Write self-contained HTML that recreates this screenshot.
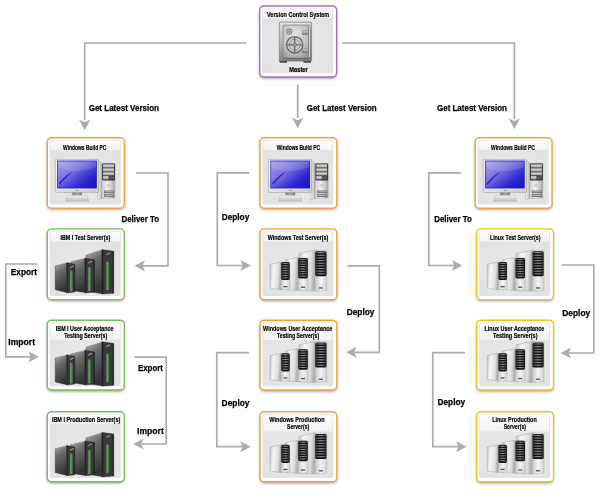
<!DOCTYPE html>
<html><head><meta charset="utf-8">
<style>
html,body{margin:0;padding:0;background:#fff;width:600px;height:495px;overflow:hidden}
svg{display:block;font-family:"Liberation Sans", sans-serif;will-change:transform}
</style></head><body>
<svg width="600" height="495" viewBox="0 0 600 495">
<rect width="600" height="495" fill="#fff"/>

<defs>
  <linearGradient id="band" x1="0" y1="0" x2="0" y2="1">
    <stop offset="0" stop-color="#fdfdfd"/>
    <stop offset="1" stop-color="#f2f2f2"/>
  </linearGradient>
  <radialGradient id="panel" cx="0.5" cy="0.6" r="0.7">
    <stop offset="0" stop-color="#ebebeb"/>
    <stop offset="1" stop-color="#e0e0e0"/>
  </radialGradient>
  <filter id="sh" x="-20%" y="-20%" width="140%" height="140%">
    <feGaussianBlur stdDeviation="1.4"/>
  </filter>
  <linearGradient id="scr" x1="0" y1="0" x2="1" y2="0.9">
    <stop offset="0" stop-color="#aaa2e6"/>
    <stop offset="0.4" stop-color="#7a72de"/>
    <stop offset="0.62" stop-color="#4a42d6"/>
    <stop offset="0.8" stop-color="#2a22d0"/>
    <stop offset="1" stop-color="#1c16cc"/>
  </linearGradient>
  <linearGradient id="silv" x1="0" y1="0" x2="1" y2="1">
    <stop offset="0" stop-color="#f4f4f4"/>
    <stop offset="1" stop-color="#bdbdbd"/>
  </linearGradient>
  <linearGradient id="silvH" x1="0" y1="0" x2="1" y2="0">
    <stop offset="0" stop-color="#f8f8f8"/>
    <stop offset="0.6" stop-color="#e0e0e0"/>
    <stop offset="1" stop-color="#b8b8b8"/>
  </linearGradient>
  <linearGradient id="wside" x1="0" y1="0" x2="1" y2="0.15">
    <stop offset="0" stop-color="#c4c4c4"/>
    <stop offset="0.35" stop-color="#f6f6f6"/>
    <stop offset="0.8" stop-color="#dedede"/>
    <stop offset="1" stop-color="#b4b4b4"/>
  </linearGradient>
  <linearGradient id="wfront" x1="0" y1="0" x2="1" y2="0">
    <stop offset="0" stop-color="#c4c4c4"/>
    <stop offset="0.5" stop-color="#f4f4f4"/>
    <stop offset="1" stop-color="#d0d0d0"/>
  </linearGradient>
  <linearGradient id="dside" x1="0.1" y1="0" x2="0.4" y2="1">
    <stop offset="0" stop-color="#a8a8a8"/>
    <stop offset="0.35" stop-color="#6a6a6a"/>
    <stop offset="1" stop-color="#333333"/>
  </linearGradient>
  <linearGradient id="safe" x1="0" y1="0" x2="0.3" y2="1">
    <stop offset="0" stop-color="#e2e2e2"/>
    <stop offset="0.5" stop-color="#b4b4b4"/>
    <stop offset="1" stop-color="#7e7e7e"/>
  </linearGradient>
  <radialGradient id="safeDoor" cx="0.45" cy="0.3" r="0.85">
    <stop offset="0" stop-color="#e4e4e4"/>
    <stop offset="0.6" stop-color="#c0c0c0"/>
    <stop offset="1" stop-color="#929292"/>
  </radialGradient>

  <linearGradient id="tside" x1="0" y1="0" x2="1" y2="0"><stop offset="0" stop-color="#f2f2f2"/><stop offset="1" stop-color="#bcbcbc"/></linearGradient>
  <linearGradient id="tfront" x1="0" y1="0" x2="1" y2="0"><stop offset="0" stop-color="#d0d0d0"/><stop offset="0.45" stop-color="#f0f0f0"/><stop offset="1" stop-color="#a8a8a8"/></linearGradient>
  <linearGradient id="bay" x1="0" y1="0" x2="0" y2="1"><stop offset="0" stop-color="#e8e8e8"/><stop offset="1" stop-color="#9c9c9c"/></linearGradient>
  <linearGradient id="frame" x1="0" y1="0" x2="1" y2="1"><stop offset="0" stop-color="#fbfbfb"/><stop offset="1" stop-color="#cfcfcf"/></linearGradient>
  <linearGradient id="neck" x1="0" y1="0" x2="1" y2="0"><stop offset="0" stop-color="#7a7a7a"/><stop offset="0.5" stop-color="#a8a8a8"/><stop offset="1" stop-color="#7a7a7a"/></linearGradient>
  <linearGradient id="base" x1="0" y1="0" x2="0" y2="1"><stop offset="0" stop-color="#f4f4f4"/><stop offset="1" stop-color="#bdbdbd"/></linearGradient>
  <linearGradient id="dfront" x1="0" y1="0" x2="1" y2="0"><stop offset="0" stop-color="#1a1a1a"/><stop offset="0.2" stop-color="#3a3a3a"/><stop offset="0.8" stop-color="#3a3a3a"/><stop offset="1" stop-color="#1a1a1a"/></linearGradient>
  <linearGradient id="slat" x1="0" y1="0" x2="1" y2="0"><stop offset="0" stop-color="#4a4a4a"/><stop offset="0.5" stop-color="#9a9a9a"/><stop offset="1" stop-color="#4a4a4a"/></linearGradient>
  <linearGradient id="hinge" x1="0" y1="0" x2="0" y2="1"><stop offset="0" stop-color="#d0d0d0"/><stop offset="1" stop-color="#7c7c7c"/></linearGradient>
  <linearGradient id="hbar" x1="0" y1="0" x2="1" y2="0"><stop offset="0" stop-color="#6a6a6a"/><stop offset="0.5" stop-color="#d4d4d4"/><stop offset="1" stop-color="#7a7a7a"/></linearGradient>
</defs>

<rect x="259.60" y="7.40" width="76.90" height="71.00" rx="4.2" fill="#000" opacity="0.4" filter="url(#sh)"/><rect x="259.70" y="6.00" width="76.90" height="71.00" rx="4.2" fill="#fff" stroke="#a06fd4" stroke-width="1.4"/><rect x="262.20" y="8.50" width="70.90" height="64.80" rx="2.2" fill="url(#panel)"/><rect x="263.00" y="9.10" width="69.30" height="9.50" rx="1.5" fill="url(#band)"/>
<g transform="translate(259.00,5.30)"><rect x="20.5" y="54.6" width="7.5" height="2.8" fill="#3c3c3c"/><rect x="44.5" y="54.6" width="7.5" height="2.8" fill="#3c3c3c"/><rect x="20.3" y="16.8" width="32.3" height="39" rx="0.8" fill="url(#safe)" stroke="#6a6a6a" stroke-width="0.6"/><rect x="21.2" y="17.6" width="30.5" height="1.2" fill="#e6e6e6" opacity="0.7"/><rect x="24.1" y="19.9" width="25.8" height="33.2" rx="0.6" fill="url(#safeDoor)" stroke="#7a7a7a" stroke-width="0.6"/><path d="M24.1,53.1 L49.9,53.1" stroke="#5c5c5c" stroke-width="0.8"/><circle cx="35.7" cy="39.5" r="8.1" fill="#d2d2d2" stroke="#6a6a6a" stroke-width="1.5"/><circle cx="35.7" cy="39.5" r="5.6" fill="#c6c6c6" stroke="#858585" stroke-width="0.8"/><path d="M35.7,31.6 V47.4 M27.8,39.5 H43.6" stroke="#6a6a6a" stroke-width="1.3"/><circle cx="35.7" cy="39.5" r="1.8" fill="#a0a0a0" stroke="#5e5e5e" stroke-width="0.5"/><circle cx="30.2" cy="26.3" r="2.6" fill="#c8c8c8" stroke="#5a5a5a" stroke-width="0.8"/><circle cx="30.2" cy="26.3" r="1.1" fill="#8a8a8a"/><rect x="43.3" y="25.3" width="6" height="4.1" fill="url(#hinge)" stroke="#666" stroke-width="0.4"/><rect x="43.3" y="43" width="6" height="4.5" fill="url(#hinge)" stroke="#666" stroke-width="0.4"/><rect x="49.3" y="21.7" width="2.4" height="29.9" fill="url(#hbar)"/></g>
<rect x="47.20" y="139.10" width="77.00" height="70.40" rx="4.2" fill="#000" opacity="0.4" filter="url(#sh)"/><rect x="47.30" y="137.70" width="77.00" height="70.40" rx="4.2" fill="#fff" stroke="#f7a03c" stroke-width="1.4"/><rect x="49.80" y="140.20" width="71.00" height="64.20" rx="2.2" fill="url(#panel)"/><rect x="50.60" y="140.80" width="69.40" height="9.50" rx="1.5" fill="url(#band)"/>
<g transform="translate(46.60,137.00)"><path d="M50.6,22.6 L55.2,26.2 L55.2,61.4 L51.0,63.4 Z" fill="url(#tside)" stroke="#9a9a9a" stroke-width="0.35"/><path d="M55.2,26.2 L68.3,26.6 L68.3,61.0 L55.2,61.4 Z" fill="url(#tfront)" stroke="#8e8e8e" stroke-width="0.4"/><rect x="55.6" y="26.4" width="12.7" height="17" rx="1.2" fill="#2e2e2e"/><rect x="56.5" y="27.4" width="10.9" height="3.2" fill="url(#bay)"/><rect x="56.5" y="31.4" width="10.9" height="3.2" fill="url(#bay)"/><rect x="56.5" y="35.4" width="10.9" height="3.0" fill="url(#bay)"/><rect x="56.5" y="39.2" width="5.5" height="3.2" fill="url(#bay)"/><rect x="62.2" y="39.2" width="5.2" height="3.2" fill="#5a5a5a"/><circle cx="61.8" cy="48.3" r="1.2" fill="none" stroke="#a0a0a0" stroke-width="0.5"/><rect x="57.4" y="53.6" width="10" height="2.6" fill="#5c5c5c"/><rect x="57.4" y="57.2" width="10" height="2.6" fill="#5c5c5c"/><rect x="58.0" y="54.2" width="8.8" height="1.2" fill="#b8b8b8"/><rect x="58.0" y="57.8" width="8.8" height="1.2" fill="#b8b8b8"/><rect x="8.7" y="22.4" width="43.1" height="33" rx="0.6" fill="url(#frame)" stroke="#8e8e8e" stroke-width="0.5"/><rect x="10.6" y="23.6" width="39.6" height="27.8" fill="#1a14cc"/><rect x="11.3" y="24.4" width="38.2" height="26.2" fill="url(#scr)"/><path d="M11.3,24.4 L49.5,24.4 L49.5,30 C40,34 30,35 20,33 C15,32 12,30 11.3,28 Z" fill="#ffffff" opacity="0.13"/><path d="M12.2,46.5 C16,42 20,37.5 26.5,34.5 C22,38.5 17,43 12.8,47.8 Z" fill="#1a14b0" opacity="0.85"/><rect x="29.2" y="52.9" width="1.3" height="1.1" fill="#30c040"/><rect x="30.7" y="52.9" width="1.3" height="1.1" fill="#f07a30"/><rect x="25.8" y="55.4" width="9.6" height="4" fill="url(#neck)"/><path d="M20.6,58.3 L40.4,58.3 L42.2,64.3 L18.8,64.3 Z" fill="url(#base)" stroke="#a8a8a8" stroke-width="0.35"/></g>
<rect x="47.20" y="230.30" width="77.00" height="70.70" rx="4.2" fill="#000" opacity="0.4" filter="url(#sh)"/><rect x="47.30" y="228.90" width="77.00" height="70.70" rx="4.2" fill="#fff" stroke="#76bf5a" stroke-width="1.4"/><rect x="49.80" y="231.40" width="71.00" height="64.50" rx="2.2" fill="url(#panel)"/><rect x="50.60" y="232.00" width="69.40" height="9.50" rx="1.5" fill="url(#band)"/>
<g transform="translate(46.60,228.20)"><path d="M39.4,27.0 L55.3,21.9 L55.3,65.6 L39.4,62.7 Z" fill="url(#dside)" stroke="#303030" stroke-width="0.4"/><path d="M39.8,27.3 L55.3,22.0" stroke="#b0b0b0" stroke-width="0.5"/><path d="M55.3,21.4 L67.2,23.099999999999998 L67.2,65.0 L55.3,65.89999999999999 Z" fill="url(#dfront)" stroke="#181818" stroke-width="0.4"/><rect x="60.10" y="33.50" width="1.0" height="28.40" fill="#c8c8c8"/><rect x="61.1" y="33.8" width="1.3" height="27.8" fill="#2c8a2e"/><path d="M59.90,26.299999999999997 L63.30,24.5" stroke="#9a9a9a" stroke-width="1.2"/><path d="M24.1,33.8 L38.3,30.4 L38.3,64.4 L24.1,62.2 Z" fill="url(#dside)" stroke="#303030" stroke-width="0.4"/><path d="M24.5,34.099999999999994 L38.3,30.5" stroke="#b0b0b0" stroke-width="0.5"/><path d="M38.3,29.9 L47.9,31.599999999999998 L47.9,63.800000000000004 L38.3,64.7 Z" fill="url(#dfront)" stroke="#181818" stroke-width="0.4"/><rect x="42.00" y="39.20" width="1.0" height="23.80" fill="#c8c8c8"/><rect x="43.0" y="39.5" width="1.2" height="23.2" fill="#2c8a2e"/><path d="M41.80,34.8 L45.20,33.0" stroke="#9a9a9a" stroke-width="1.2"/><path d="M8.6,37.8 L20.1,34.9 L20.1,64.4 L8.6,61.6 Z" fill="url(#dside)" stroke="#303030" stroke-width="0.4"/><path d="M9.0,38.099999999999994 L20.1,35.0" stroke="#b0b0b0" stroke-width="0.5"/><path d="M20.1,34.4 L28.1,36.1 L28.1,63.800000000000004 L20.1,64.7 Z" fill="url(#dfront)" stroke="#181818" stroke-width="0.4"/><rect x="23.90" y="42.50" width="1.0" height="20.60" fill="#c8c8c8"/><rect x="24.9" y="42.8" width="1.2" height="20.0" fill="#2c8a2e"/><path d="M23.70,39.3 L27.10,37.5" stroke="#9a9a9a" stroke-width="1.2"/></g>
<rect x="47.20" y="321.60" width="77.00" height="69.80" rx="4.2" fill="#000" opacity="0.4" filter="url(#sh)"/><rect x="47.30" y="320.20" width="77.00" height="69.80" rx="4.2" fill="#fff" stroke="#76bf5a" stroke-width="1.4"/><rect x="49.80" y="322.70" width="71.00" height="63.60" rx="2.2" fill="url(#panel)"/><rect x="50.60" y="323.30" width="69.40" height="16.70" rx="1.5" fill="url(#band)"/>
<g transform="translate(46.60,320.30)"><path d="M39.4,27.0 L55.3,21.9 L55.3,65.6 L39.4,62.7 Z" fill="url(#dside)" stroke="#303030" stroke-width="0.4"/><path d="M39.8,27.3 L55.3,22.0" stroke="#b0b0b0" stroke-width="0.5"/><path d="M55.3,21.4 L67.2,23.099999999999998 L67.2,65.0 L55.3,65.89999999999999 Z" fill="url(#dfront)" stroke="#181818" stroke-width="0.4"/><rect x="60.10" y="33.50" width="1.0" height="28.40" fill="#c8c8c8"/><rect x="61.1" y="33.8" width="1.3" height="27.8" fill="#2c8a2e"/><path d="M59.90,26.299999999999997 L63.30,24.5" stroke="#9a9a9a" stroke-width="1.2"/><path d="M24.1,33.8 L38.3,30.4 L38.3,64.4 L24.1,62.2 Z" fill="url(#dside)" stroke="#303030" stroke-width="0.4"/><path d="M24.5,34.099999999999994 L38.3,30.5" stroke="#b0b0b0" stroke-width="0.5"/><path d="M38.3,29.9 L47.9,31.599999999999998 L47.9,63.800000000000004 L38.3,64.7 Z" fill="url(#dfront)" stroke="#181818" stroke-width="0.4"/><rect x="42.00" y="39.20" width="1.0" height="23.80" fill="#c8c8c8"/><rect x="43.0" y="39.5" width="1.2" height="23.2" fill="#2c8a2e"/><path d="M41.80,34.8 L45.20,33.0" stroke="#9a9a9a" stroke-width="1.2"/><path d="M8.6,37.8 L20.1,34.9 L20.1,64.4 L8.6,61.6 Z" fill="url(#dside)" stroke="#303030" stroke-width="0.4"/><path d="M9.0,38.099999999999994 L20.1,35.0" stroke="#b0b0b0" stroke-width="0.5"/><path d="M20.1,34.4 L28.1,36.1 L28.1,63.800000000000004 L20.1,64.7 Z" fill="url(#dfront)" stroke="#181818" stroke-width="0.4"/><rect x="23.90" y="42.50" width="1.0" height="20.60" fill="#c8c8c8"/><rect x="24.9" y="42.8" width="1.2" height="20.0" fill="#2c8a2e"/><path d="M23.70,39.3 L27.10,37.5" stroke="#9a9a9a" stroke-width="1.2"/></g>
<rect x="47.20" y="413.10" width="77.00" height="70.10" rx="4.2" fill="#000" opacity="0.4" filter="url(#sh)"/><rect x="47.30" y="411.70" width="77.00" height="70.10" rx="4.2" fill="#fff" stroke="#76bf5a" stroke-width="1.4"/><rect x="49.80" y="414.20" width="71.00" height="63.90" rx="2.2" fill="url(#panel)"/><rect x="50.60" y="414.80" width="69.40" height="9.50" rx="1.5" fill="url(#band)"/>
<g transform="translate(46.60,411.00)"><path d="M39.4,27.0 L55.3,21.9 L55.3,65.6 L39.4,62.7 Z" fill="url(#dside)" stroke="#303030" stroke-width="0.4"/><path d="M39.8,27.3 L55.3,22.0" stroke="#b0b0b0" stroke-width="0.5"/><path d="M55.3,21.4 L67.2,23.099999999999998 L67.2,65.0 L55.3,65.89999999999999 Z" fill="url(#dfront)" stroke="#181818" stroke-width="0.4"/><rect x="60.10" y="33.50" width="1.0" height="28.40" fill="#c8c8c8"/><rect x="61.1" y="33.8" width="1.3" height="27.8" fill="#2c8a2e"/><path d="M59.90,26.299999999999997 L63.30,24.5" stroke="#9a9a9a" stroke-width="1.2"/><path d="M24.1,33.8 L38.3,30.4 L38.3,64.4 L24.1,62.2 Z" fill="url(#dside)" stroke="#303030" stroke-width="0.4"/><path d="M24.5,34.099999999999994 L38.3,30.5" stroke="#b0b0b0" stroke-width="0.5"/><path d="M38.3,29.9 L47.9,31.599999999999998 L47.9,63.800000000000004 L38.3,64.7 Z" fill="url(#dfront)" stroke="#181818" stroke-width="0.4"/><rect x="42.00" y="39.20" width="1.0" height="23.80" fill="#c8c8c8"/><rect x="43.0" y="39.5" width="1.2" height="23.2" fill="#2c8a2e"/><path d="M41.80,34.8 L45.20,33.0" stroke="#9a9a9a" stroke-width="1.2"/><path d="M8.6,37.8 L20.1,34.9 L20.1,64.4 L8.6,61.6 Z" fill="url(#dside)" stroke="#303030" stroke-width="0.4"/><path d="M9.0,38.099999999999994 L20.1,35.0" stroke="#b0b0b0" stroke-width="0.5"/><path d="M20.1,34.4 L28.1,36.1 L28.1,63.800000000000004 L20.1,64.7 Z" fill="url(#dfront)" stroke="#181818" stroke-width="0.4"/><rect x="23.90" y="42.50" width="1.0" height="20.60" fill="#c8c8c8"/><rect x="24.9" y="42.8" width="1.2" height="20.0" fill="#2c8a2e"/><path d="M23.70,39.3 L27.10,37.5" stroke="#9a9a9a" stroke-width="1.2"/></g>
<rect x="259.90" y="139.10" width="76.80" height="70.40" rx="4.2" fill="#000" opacity="0.4" filter="url(#sh)"/><rect x="260.00" y="137.70" width="76.80" height="70.40" rx="4.2" fill="#fff" stroke="#f7a03c" stroke-width="1.4"/><rect x="262.50" y="140.20" width="70.80" height="64.20" rx="2.2" fill="url(#panel)"/><rect x="263.30" y="140.80" width="69.20" height="9.50" rx="1.5" fill="url(#band)"/>
<g transform="translate(259.80,137.00)"><path d="M50.6,22.6 L55.2,26.2 L55.2,61.4 L51.0,63.4 Z" fill="url(#tside)" stroke="#9a9a9a" stroke-width="0.35"/><path d="M55.2,26.2 L68.3,26.6 L68.3,61.0 L55.2,61.4 Z" fill="url(#tfront)" stroke="#8e8e8e" stroke-width="0.4"/><rect x="55.6" y="26.4" width="12.7" height="17" rx="1.2" fill="#2e2e2e"/><rect x="56.5" y="27.4" width="10.9" height="3.2" fill="url(#bay)"/><rect x="56.5" y="31.4" width="10.9" height="3.2" fill="url(#bay)"/><rect x="56.5" y="35.4" width="10.9" height="3.0" fill="url(#bay)"/><rect x="56.5" y="39.2" width="5.5" height="3.2" fill="url(#bay)"/><rect x="62.2" y="39.2" width="5.2" height="3.2" fill="#5a5a5a"/><circle cx="61.8" cy="48.3" r="1.2" fill="none" stroke="#a0a0a0" stroke-width="0.5"/><rect x="57.4" y="53.6" width="10" height="2.6" fill="#5c5c5c"/><rect x="57.4" y="57.2" width="10" height="2.6" fill="#5c5c5c"/><rect x="58.0" y="54.2" width="8.8" height="1.2" fill="#b8b8b8"/><rect x="58.0" y="57.8" width="8.8" height="1.2" fill="#b8b8b8"/><rect x="8.7" y="22.4" width="43.1" height="33" rx="0.6" fill="url(#frame)" stroke="#8e8e8e" stroke-width="0.5"/><rect x="10.6" y="23.6" width="39.6" height="27.8" fill="#1a14cc"/><rect x="11.3" y="24.4" width="38.2" height="26.2" fill="url(#scr)"/><path d="M11.3,24.4 L49.5,24.4 L49.5,30 C40,34 30,35 20,33 C15,32 12,30 11.3,28 Z" fill="#ffffff" opacity="0.13"/><path d="M12.2,46.5 C16,42 20,37.5 26.5,34.5 C22,38.5 17,43 12.8,47.8 Z" fill="#1a14b0" opacity="0.85"/><rect x="29.2" y="52.9" width="1.3" height="1.1" fill="#30c040"/><rect x="30.7" y="52.9" width="1.3" height="1.1" fill="#f07a30"/><rect x="25.8" y="55.4" width="9.6" height="4" fill="url(#neck)"/><path d="M20.6,58.3 L40.4,58.3 L42.2,64.3 L18.8,64.3 Z" fill="url(#base)" stroke="#a8a8a8" stroke-width="0.35"/></g>
<rect x="259.90" y="230.30" width="76.80" height="70.70" rx="4.2" fill="#000" opacity="0.4" filter="url(#sh)"/><rect x="260.00" y="228.90" width="76.80" height="70.70" rx="4.2" fill="#fff" stroke="#f7a03c" stroke-width="1.4"/><rect x="262.50" y="231.40" width="70.80" height="64.50" rx="2.2" fill="url(#panel)"/><rect x="263.30" y="232.00" width="69.20" height="9.50" rx="1.5" fill="url(#band)"/>
<g transform="translate(259.30,228.20)"><path d="M39.7,25.3 L55.6,21.9 L55.6,62.9 L39.7,62.5 Z" fill="url(#wside)" stroke="#9c9c9c" stroke-width="0.45"/><path d="M55.6,21.9 L67.5,22.5 L67.5,62.1 L55.6,62.9 Z" fill="url(#wfront)" stroke="#a4a4a4" stroke-width="0.4"/><rect x="55.90" y="23.0" width="11.30" height="25.00" rx="1.6" fill="#141414"/><rect x="56.60" y="23.90" width="9.90" height="1.11" fill="url(#slat)"/><rect x="56.60" y="26.54" width="9.90" height="1.11" fill="url(#slat)"/><rect x="56.60" y="29.19" width="9.90" height="1.11" fill="url(#slat)"/><rect x="56.60" y="31.83" width="9.90" height="1.11" fill="url(#slat)"/><rect x="56.60" y="34.48" width="9.90" height="1.11" fill="url(#slat)"/><rect x="56.60" y="37.12" width="9.90" height="1.11" fill="url(#slat)"/><rect x="56.60" y="39.77" width="9.90" height="1.11" fill="url(#slat)"/><rect x="56.60" y="42.41" width="9.90" height="1.11" fill="url(#slat)"/><rect x="56.60" y="45.06" width="9.90" height="1.11" fill="url(#slat)"/><rect x="59.55" y="59.10" width="4" height="1.3" fill="#505050"/><path d="M26.1,31.5 L38.6,29.3 L38.6,62.2 L26.1,61.5 Z" fill="url(#wside)" stroke="#9c9c9c" stroke-width="0.45"/><path d="M38.6,29.3 L48.8,29.900000000000002 L48.8,61.400000000000006 L38.6,62.2 Z" fill="url(#wfront)" stroke="#a4a4a4" stroke-width="0.4"/><rect x="38.90" y="29.8" width="9.60" height="20.40" rx="1.6" fill="#141414"/><rect x="39.60" y="30.70" width="8.20" height="1.01" fill="url(#slat)"/><rect x="39.60" y="33.10" width="8.20" height="1.01" fill="url(#slat)"/><rect x="39.60" y="35.50" width="8.20" height="1.01" fill="url(#slat)"/><rect x="39.60" y="37.90" width="8.20" height="1.01" fill="url(#slat)"/><rect x="39.60" y="40.30" width="8.20" height="1.01" fill="url(#slat)"/><rect x="39.60" y="42.70" width="8.20" height="1.01" fill="url(#slat)"/><rect x="39.60" y="45.10" width="8.20" height="1.01" fill="url(#slat)"/><rect x="39.60" y="47.50" width="8.20" height="1.01" fill="url(#slat)"/><rect x="41.70" y="58.40" width="4" height="1.3" fill="#505050"/><path d="M10.8,36.1 L21.6,33.8 L21.6,61.6 L10.8,59.9 Z" fill="url(#wside)" stroke="#9c9c9c" stroke-width="0.45"/><path d="M21.6,33.8 L30.7,34.4 L30.7,60.800000000000004 L21.6,61.6 Z" fill="url(#wfront)" stroke="#a4a4a4" stroke-width="0.4"/><rect x="21.90" y="33.8" width="8.50" height="18.10" rx="1.6" fill="#141414"/><rect x="22.60" y="34.70" width="7.10" height="1.01" fill="url(#slat)"/><rect x="22.60" y="37.11" width="7.10" height="1.01" fill="url(#slat)"/><rect x="22.60" y="39.53" width="7.10" height="1.01" fill="url(#slat)"/><rect x="22.60" y="41.94" width="7.10" height="1.01" fill="url(#slat)"/><rect x="22.60" y="44.36" width="7.10" height="1.01" fill="url(#slat)"/><rect x="22.60" y="46.77" width="7.10" height="1.01" fill="url(#slat)"/><rect x="22.60" y="49.19" width="7.10" height="1.01" fill="url(#slat)"/><rect x="24.15" y="57.80" width="4" height="1.3" fill="#505050"/></g>
<rect x="259.90" y="321.60" width="76.80" height="69.80" rx="4.2" fill="#000" opacity="0.4" filter="url(#sh)"/><rect x="260.00" y="320.20" width="76.80" height="69.80" rx="4.2" fill="#fff" stroke="#f7a03c" stroke-width="1.4"/><rect x="262.50" y="322.70" width="70.80" height="63.60" rx="2.2" fill="url(#panel)"/><rect x="263.30" y="323.30" width="69.20" height="16.70" rx="1.5" fill="url(#band)"/>
<g transform="translate(259.30,319.50)"><path d="M39.7,25.3 L55.6,21.9 L55.6,62.9 L39.7,62.5 Z" fill="url(#wside)" stroke="#9c9c9c" stroke-width="0.45"/><path d="M55.6,21.9 L67.5,22.5 L67.5,62.1 L55.6,62.9 Z" fill="url(#wfront)" stroke="#a4a4a4" stroke-width="0.4"/><rect x="55.90" y="23.0" width="11.30" height="25.00" rx="1.6" fill="#141414"/><rect x="56.60" y="23.90" width="9.90" height="1.11" fill="url(#slat)"/><rect x="56.60" y="26.54" width="9.90" height="1.11" fill="url(#slat)"/><rect x="56.60" y="29.19" width="9.90" height="1.11" fill="url(#slat)"/><rect x="56.60" y="31.83" width="9.90" height="1.11" fill="url(#slat)"/><rect x="56.60" y="34.48" width="9.90" height="1.11" fill="url(#slat)"/><rect x="56.60" y="37.12" width="9.90" height="1.11" fill="url(#slat)"/><rect x="56.60" y="39.77" width="9.90" height="1.11" fill="url(#slat)"/><rect x="56.60" y="42.41" width="9.90" height="1.11" fill="url(#slat)"/><rect x="56.60" y="45.06" width="9.90" height="1.11" fill="url(#slat)"/><rect x="59.55" y="59.10" width="4" height="1.3" fill="#505050"/><path d="M26.1,31.5 L38.6,29.3 L38.6,62.2 L26.1,61.5 Z" fill="url(#wside)" stroke="#9c9c9c" stroke-width="0.45"/><path d="M38.6,29.3 L48.8,29.900000000000002 L48.8,61.400000000000006 L38.6,62.2 Z" fill="url(#wfront)" stroke="#a4a4a4" stroke-width="0.4"/><rect x="38.90" y="29.8" width="9.60" height="20.40" rx="1.6" fill="#141414"/><rect x="39.60" y="30.70" width="8.20" height="1.01" fill="url(#slat)"/><rect x="39.60" y="33.10" width="8.20" height="1.01" fill="url(#slat)"/><rect x="39.60" y="35.50" width="8.20" height="1.01" fill="url(#slat)"/><rect x="39.60" y="37.90" width="8.20" height="1.01" fill="url(#slat)"/><rect x="39.60" y="40.30" width="8.20" height="1.01" fill="url(#slat)"/><rect x="39.60" y="42.70" width="8.20" height="1.01" fill="url(#slat)"/><rect x="39.60" y="45.10" width="8.20" height="1.01" fill="url(#slat)"/><rect x="39.60" y="47.50" width="8.20" height="1.01" fill="url(#slat)"/><rect x="41.70" y="58.40" width="4" height="1.3" fill="#505050"/><path d="M10.8,36.1 L21.6,33.8 L21.6,61.6 L10.8,59.9 Z" fill="url(#wside)" stroke="#9c9c9c" stroke-width="0.45"/><path d="M21.6,33.8 L30.7,34.4 L30.7,60.800000000000004 L21.6,61.6 Z" fill="url(#wfront)" stroke="#a4a4a4" stroke-width="0.4"/><rect x="21.90" y="33.8" width="8.50" height="18.10" rx="1.6" fill="#141414"/><rect x="22.60" y="34.70" width="7.10" height="1.01" fill="url(#slat)"/><rect x="22.60" y="37.11" width="7.10" height="1.01" fill="url(#slat)"/><rect x="22.60" y="39.53" width="7.10" height="1.01" fill="url(#slat)"/><rect x="22.60" y="41.94" width="7.10" height="1.01" fill="url(#slat)"/><rect x="22.60" y="44.36" width="7.10" height="1.01" fill="url(#slat)"/><rect x="22.60" y="46.77" width="7.10" height="1.01" fill="url(#slat)"/><rect x="22.60" y="49.19" width="7.10" height="1.01" fill="url(#slat)"/><rect x="24.15" y="57.80" width="4" height="1.3" fill="#505050"/></g>
<rect x="259.90" y="413.10" width="76.80" height="70.10" rx="4.2" fill="#000" opacity="0.4" filter="url(#sh)"/><rect x="260.00" y="411.70" width="76.80" height="70.10" rx="4.2" fill="#fff" stroke="#f7a03c" stroke-width="1.4"/><rect x="262.50" y="414.20" width="70.80" height="63.90" rx="2.2" fill="url(#panel)"/><rect x="263.30" y="414.80" width="69.20" height="16.70" rx="1.5" fill="url(#band)"/>
<g transform="translate(259.30,411.00)"><path d="M39.7,25.3 L55.6,21.9 L55.6,62.9 L39.7,62.5 Z" fill="url(#wside)" stroke="#9c9c9c" stroke-width="0.45"/><path d="M55.6,21.9 L67.5,22.5 L67.5,62.1 L55.6,62.9 Z" fill="url(#wfront)" stroke="#a4a4a4" stroke-width="0.4"/><rect x="55.90" y="23.0" width="11.30" height="25.00" rx="1.6" fill="#141414"/><rect x="56.60" y="23.90" width="9.90" height="1.11" fill="url(#slat)"/><rect x="56.60" y="26.54" width="9.90" height="1.11" fill="url(#slat)"/><rect x="56.60" y="29.19" width="9.90" height="1.11" fill="url(#slat)"/><rect x="56.60" y="31.83" width="9.90" height="1.11" fill="url(#slat)"/><rect x="56.60" y="34.48" width="9.90" height="1.11" fill="url(#slat)"/><rect x="56.60" y="37.12" width="9.90" height="1.11" fill="url(#slat)"/><rect x="56.60" y="39.77" width="9.90" height="1.11" fill="url(#slat)"/><rect x="56.60" y="42.41" width="9.90" height="1.11" fill="url(#slat)"/><rect x="56.60" y="45.06" width="9.90" height="1.11" fill="url(#slat)"/><rect x="59.55" y="59.10" width="4" height="1.3" fill="#505050"/><path d="M26.1,31.5 L38.6,29.3 L38.6,62.2 L26.1,61.5 Z" fill="url(#wside)" stroke="#9c9c9c" stroke-width="0.45"/><path d="M38.6,29.3 L48.8,29.900000000000002 L48.8,61.400000000000006 L38.6,62.2 Z" fill="url(#wfront)" stroke="#a4a4a4" stroke-width="0.4"/><rect x="38.90" y="29.8" width="9.60" height="20.40" rx="1.6" fill="#141414"/><rect x="39.60" y="30.70" width="8.20" height="1.01" fill="url(#slat)"/><rect x="39.60" y="33.10" width="8.20" height="1.01" fill="url(#slat)"/><rect x="39.60" y="35.50" width="8.20" height="1.01" fill="url(#slat)"/><rect x="39.60" y="37.90" width="8.20" height="1.01" fill="url(#slat)"/><rect x="39.60" y="40.30" width="8.20" height="1.01" fill="url(#slat)"/><rect x="39.60" y="42.70" width="8.20" height="1.01" fill="url(#slat)"/><rect x="39.60" y="45.10" width="8.20" height="1.01" fill="url(#slat)"/><rect x="39.60" y="47.50" width="8.20" height="1.01" fill="url(#slat)"/><rect x="41.70" y="58.40" width="4" height="1.3" fill="#505050"/><path d="M10.8,36.1 L21.6,33.8 L21.6,61.6 L10.8,59.9 Z" fill="url(#wside)" stroke="#9c9c9c" stroke-width="0.45"/><path d="M21.6,33.8 L30.7,34.4 L30.7,60.800000000000004 L21.6,61.6 Z" fill="url(#wfront)" stroke="#a4a4a4" stroke-width="0.4"/><rect x="21.90" y="33.8" width="8.50" height="18.10" rx="1.6" fill="#141414"/><rect x="22.60" y="34.70" width="7.10" height="1.01" fill="url(#slat)"/><rect x="22.60" y="37.11" width="7.10" height="1.01" fill="url(#slat)"/><rect x="22.60" y="39.53" width="7.10" height="1.01" fill="url(#slat)"/><rect x="22.60" y="41.94" width="7.10" height="1.01" fill="url(#slat)"/><rect x="22.60" y="44.36" width="7.10" height="1.01" fill="url(#slat)"/><rect x="22.60" y="46.77" width="7.10" height="1.01" fill="url(#slat)"/><rect x="22.60" y="49.19" width="7.10" height="1.01" fill="url(#slat)"/><rect x="24.15" y="57.80" width="4" height="1.3" fill="#505050"/></g>
<rect x="475.10" y="139.10" width="76.80" height="70.40" rx="4.2" fill="#000" opacity="0.4" filter="url(#sh)"/><rect x="475.20" y="137.70" width="76.80" height="70.40" rx="4.2" fill="#fff" stroke="#f7a03c" stroke-width="1.4"/><rect x="477.70" y="140.20" width="70.80" height="64.20" rx="2.2" fill="url(#panel)"/><rect x="478.50" y="140.80" width="69.20" height="9.50" rx="1.5" fill="url(#band)"/>
<g transform="translate(474.50,137.00)"><path d="M50.6,22.6 L55.2,26.2 L55.2,61.4 L51.0,63.4 Z" fill="url(#tside)" stroke="#9a9a9a" stroke-width="0.35"/><path d="M55.2,26.2 L68.3,26.6 L68.3,61.0 L55.2,61.4 Z" fill="url(#tfront)" stroke="#8e8e8e" stroke-width="0.4"/><rect x="55.6" y="26.4" width="12.7" height="17" rx="1.2" fill="#2e2e2e"/><rect x="56.5" y="27.4" width="10.9" height="3.2" fill="url(#bay)"/><rect x="56.5" y="31.4" width="10.9" height="3.2" fill="url(#bay)"/><rect x="56.5" y="35.4" width="10.9" height="3.0" fill="url(#bay)"/><rect x="56.5" y="39.2" width="5.5" height="3.2" fill="url(#bay)"/><rect x="62.2" y="39.2" width="5.2" height="3.2" fill="#5a5a5a"/><circle cx="61.8" cy="48.3" r="1.2" fill="none" stroke="#a0a0a0" stroke-width="0.5"/><rect x="57.4" y="53.6" width="10" height="2.6" fill="#5c5c5c"/><rect x="57.4" y="57.2" width="10" height="2.6" fill="#5c5c5c"/><rect x="58.0" y="54.2" width="8.8" height="1.2" fill="#b8b8b8"/><rect x="58.0" y="57.8" width="8.8" height="1.2" fill="#b8b8b8"/><rect x="8.7" y="22.4" width="43.1" height="33" rx="0.6" fill="url(#frame)" stroke="#8e8e8e" stroke-width="0.5"/><rect x="10.6" y="23.6" width="39.6" height="27.8" fill="#1a14cc"/><rect x="11.3" y="24.4" width="38.2" height="26.2" fill="url(#scr)"/><path d="M11.3,24.4 L49.5,24.4 L49.5,30 C40,34 30,35 20,33 C15,32 12,30 11.3,28 Z" fill="#ffffff" opacity="0.13"/><path d="M12.2,46.5 C16,42 20,37.5 26.5,34.5 C22,38.5 17,43 12.8,47.8 Z" fill="#1a14b0" opacity="0.85"/><rect x="29.2" y="52.9" width="1.3" height="1.1" fill="#30c040"/><rect x="30.7" y="52.9" width="1.3" height="1.1" fill="#f07a30"/><rect x="25.8" y="55.4" width="9.6" height="4" fill="url(#neck)"/><path d="M20.6,58.3 L40.4,58.3 L42.2,64.3 L18.8,64.3 Z" fill="url(#base)" stroke="#a8a8a8" stroke-width="0.35"/></g>
<rect x="476.60" y="230.30" width="76.80" height="70.70" rx="4.2" fill="#000" opacity="0.4" filter="url(#sh)"/><rect x="476.70" y="228.90" width="76.80" height="70.70" rx="4.2" fill="#fff" stroke="#f5c21a" stroke-width="1.4"/><rect x="479.20" y="231.40" width="70.80" height="64.50" rx="2.2" fill="url(#panel)"/><rect x="480.00" y="232.00" width="69.20" height="9.50" rx="1.5" fill="url(#band)"/>
<g transform="translate(476.50,228.20)"><path d="M39.7,25.3 L55.6,21.9 L55.6,62.9 L39.7,62.5 Z" fill="url(#wside)" stroke="#9c9c9c" stroke-width="0.45"/><path d="M55.6,21.9 L67.5,22.5 L67.5,62.1 L55.6,62.9 Z" fill="url(#wfront)" stroke="#a4a4a4" stroke-width="0.4"/><rect x="55.90" y="23.0" width="11.30" height="25.00" rx="1.6" fill="#141414"/><rect x="56.60" y="23.90" width="9.90" height="1.11" fill="url(#slat)"/><rect x="56.60" y="26.54" width="9.90" height="1.11" fill="url(#slat)"/><rect x="56.60" y="29.19" width="9.90" height="1.11" fill="url(#slat)"/><rect x="56.60" y="31.83" width="9.90" height="1.11" fill="url(#slat)"/><rect x="56.60" y="34.48" width="9.90" height="1.11" fill="url(#slat)"/><rect x="56.60" y="37.12" width="9.90" height="1.11" fill="url(#slat)"/><rect x="56.60" y="39.77" width="9.90" height="1.11" fill="url(#slat)"/><rect x="56.60" y="42.41" width="9.90" height="1.11" fill="url(#slat)"/><rect x="56.60" y="45.06" width="9.90" height="1.11" fill="url(#slat)"/><rect x="59.55" y="59.10" width="4" height="1.3" fill="#505050"/><path d="M26.1,31.5 L38.6,29.3 L38.6,62.2 L26.1,61.5 Z" fill="url(#wside)" stroke="#9c9c9c" stroke-width="0.45"/><path d="M38.6,29.3 L48.8,29.900000000000002 L48.8,61.400000000000006 L38.6,62.2 Z" fill="url(#wfront)" stroke="#a4a4a4" stroke-width="0.4"/><rect x="38.90" y="29.8" width="9.60" height="20.40" rx="1.6" fill="#141414"/><rect x="39.60" y="30.70" width="8.20" height="1.01" fill="url(#slat)"/><rect x="39.60" y="33.10" width="8.20" height="1.01" fill="url(#slat)"/><rect x="39.60" y="35.50" width="8.20" height="1.01" fill="url(#slat)"/><rect x="39.60" y="37.90" width="8.20" height="1.01" fill="url(#slat)"/><rect x="39.60" y="40.30" width="8.20" height="1.01" fill="url(#slat)"/><rect x="39.60" y="42.70" width="8.20" height="1.01" fill="url(#slat)"/><rect x="39.60" y="45.10" width="8.20" height="1.01" fill="url(#slat)"/><rect x="39.60" y="47.50" width="8.20" height="1.01" fill="url(#slat)"/><rect x="41.70" y="58.40" width="4" height="1.3" fill="#505050"/><path d="M10.8,36.1 L21.6,33.8 L21.6,61.6 L10.8,59.9 Z" fill="url(#wside)" stroke="#9c9c9c" stroke-width="0.45"/><path d="M21.6,33.8 L30.7,34.4 L30.7,60.800000000000004 L21.6,61.6 Z" fill="url(#wfront)" stroke="#a4a4a4" stroke-width="0.4"/><rect x="21.90" y="33.8" width="8.50" height="18.10" rx="1.6" fill="#141414"/><rect x="22.60" y="34.70" width="7.10" height="1.01" fill="url(#slat)"/><rect x="22.60" y="37.11" width="7.10" height="1.01" fill="url(#slat)"/><rect x="22.60" y="39.53" width="7.10" height="1.01" fill="url(#slat)"/><rect x="22.60" y="41.94" width="7.10" height="1.01" fill="url(#slat)"/><rect x="22.60" y="44.36" width="7.10" height="1.01" fill="url(#slat)"/><rect x="22.60" y="46.77" width="7.10" height="1.01" fill="url(#slat)"/><rect x="22.60" y="49.19" width="7.10" height="1.01" fill="url(#slat)"/><rect x="24.15" y="57.80" width="4" height="1.3" fill="#505050"/></g>
<rect x="476.60" y="321.60" width="76.80" height="69.80" rx="4.2" fill="#000" opacity="0.4" filter="url(#sh)"/><rect x="476.70" y="320.20" width="76.80" height="69.80" rx="4.2" fill="#fff" stroke="#f5c21a" stroke-width="1.4"/><rect x="479.20" y="322.70" width="70.80" height="63.60" rx="2.2" fill="url(#panel)"/><rect x="480.00" y="323.30" width="69.20" height="16.70" rx="1.5" fill="url(#band)"/>
<g transform="translate(476.50,319.50)"><path d="M39.7,25.3 L55.6,21.9 L55.6,62.9 L39.7,62.5 Z" fill="url(#wside)" stroke="#9c9c9c" stroke-width="0.45"/><path d="M55.6,21.9 L67.5,22.5 L67.5,62.1 L55.6,62.9 Z" fill="url(#wfront)" stroke="#a4a4a4" stroke-width="0.4"/><rect x="55.90" y="23.0" width="11.30" height="25.00" rx="1.6" fill="#141414"/><rect x="56.60" y="23.90" width="9.90" height="1.11" fill="url(#slat)"/><rect x="56.60" y="26.54" width="9.90" height="1.11" fill="url(#slat)"/><rect x="56.60" y="29.19" width="9.90" height="1.11" fill="url(#slat)"/><rect x="56.60" y="31.83" width="9.90" height="1.11" fill="url(#slat)"/><rect x="56.60" y="34.48" width="9.90" height="1.11" fill="url(#slat)"/><rect x="56.60" y="37.12" width="9.90" height="1.11" fill="url(#slat)"/><rect x="56.60" y="39.77" width="9.90" height="1.11" fill="url(#slat)"/><rect x="56.60" y="42.41" width="9.90" height="1.11" fill="url(#slat)"/><rect x="56.60" y="45.06" width="9.90" height="1.11" fill="url(#slat)"/><rect x="59.55" y="59.10" width="4" height="1.3" fill="#505050"/><path d="M26.1,31.5 L38.6,29.3 L38.6,62.2 L26.1,61.5 Z" fill="url(#wside)" stroke="#9c9c9c" stroke-width="0.45"/><path d="M38.6,29.3 L48.8,29.900000000000002 L48.8,61.400000000000006 L38.6,62.2 Z" fill="url(#wfront)" stroke="#a4a4a4" stroke-width="0.4"/><rect x="38.90" y="29.8" width="9.60" height="20.40" rx="1.6" fill="#141414"/><rect x="39.60" y="30.70" width="8.20" height="1.01" fill="url(#slat)"/><rect x="39.60" y="33.10" width="8.20" height="1.01" fill="url(#slat)"/><rect x="39.60" y="35.50" width="8.20" height="1.01" fill="url(#slat)"/><rect x="39.60" y="37.90" width="8.20" height="1.01" fill="url(#slat)"/><rect x="39.60" y="40.30" width="8.20" height="1.01" fill="url(#slat)"/><rect x="39.60" y="42.70" width="8.20" height="1.01" fill="url(#slat)"/><rect x="39.60" y="45.10" width="8.20" height="1.01" fill="url(#slat)"/><rect x="39.60" y="47.50" width="8.20" height="1.01" fill="url(#slat)"/><rect x="41.70" y="58.40" width="4" height="1.3" fill="#505050"/><path d="M10.8,36.1 L21.6,33.8 L21.6,61.6 L10.8,59.9 Z" fill="url(#wside)" stroke="#9c9c9c" stroke-width="0.45"/><path d="M21.6,33.8 L30.7,34.4 L30.7,60.800000000000004 L21.6,61.6 Z" fill="url(#wfront)" stroke="#a4a4a4" stroke-width="0.4"/><rect x="21.90" y="33.8" width="8.50" height="18.10" rx="1.6" fill="#141414"/><rect x="22.60" y="34.70" width="7.10" height="1.01" fill="url(#slat)"/><rect x="22.60" y="37.11" width="7.10" height="1.01" fill="url(#slat)"/><rect x="22.60" y="39.53" width="7.10" height="1.01" fill="url(#slat)"/><rect x="22.60" y="41.94" width="7.10" height="1.01" fill="url(#slat)"/><rect x="22.60" y="44.36" width="7.10" height="1.01" fill="url(#slat)"/><rect x="22.60" y="46.77" width="7.10" height="1.01" fill="url(#slat)"/><rect x="22.60" y="49.19" width="7.10" height="1.01" fill="url(#slat)"/><rect x="24.15" y="57.80" width="4" height="1.3" fill="#505050"/></g>
<rect x="476.60" y="413.10" width="76.80" height="70.10" rx="4.2" fill="#000" opacity="0.4" filter="url(#sh)"/><rect x="476.70" y="411.70" width="76.80" height="70.10" rx="4.2" fill="#fff" stroke="#f5c21a" stroke-width="1.4"/><rect x="479.20" y="414.20" width="70.80" height="63.90" rx="2.2" fill="url(#panel)"/><rect x="480.00" y="414.80" width="69.20" height="16.70" rx="1.5" fill="url(#band)"/>
<g transform="translate(476.50,411.00)"><path d="M39.7,25.3 L55.6,21.9 L55.6,62.9 L39.7,62.5 Z" fill="url(#wside)" stroke="#9c9c9c" stroke-width="0.45"/><path d="M55.6,21.9 L67.5,22.5 L67.5,62.1 L55.6,62.9 Z" fill="url(#wfront)" stroke="#a4a4a4" stroke-width="0.4"/><rect x="55.90" y="23.0" width="11.30" height="25.00" rx="1.6" fill="#141414"/><rect x="56.60" y="23.90" width="9.90" height="1.11" fill="url(#slat)"/><rect x="56.60" y="26.54" width="9.90" height="1.11" fill="url(#slat)"/><rect x="56.60" y="29.19" width="9.90" height="1.11" fill="url(#slat)"/><rect x="56.60" y="31.83" width="9.90" height="1.11" fill="url(#slat)"/><rect x="56.60" y="34.48" width="9.90" height="1.11" fill="url(#slat)"/><rect x="56.60" y="37.12" width="9.90" height="1.11" fill="url(#slat)"/><rect x="56.60" y="39.77" width="9.90" height="1.11" fill="url(#slat)"/><rect x="56.60" y="42.41" width="9.90" height="1.11" fill="url(#slat)"/><rect x="56.60" y="45.06" width="9.90" height="1.11" fill="url(#slat)"/><rect x="59.55" y="59.10" width="4" height="1.3" fill="#505050"/><path d="M26.1,31.5 L38.6,29.3 L38.6,62.2 L26.1,61.5 Z" fill="url(#wside)" stroke="#9c9c9c" stroke-width="0.45"/><path d="M38.6,29.3 L48.8,29.900000000000002 L48.8,61.400000000000006 L38.6,62.2 Z" fill="url(#wfront)" stroke="#a4a4a4" stroke-width="0.4"/><rect x="38.90" y="29.8" width="9.60" height="20.40" rx="1.6" fill="#141414"/><rect x="39.60" y="30.70" width="8.20" height="1.01" fill="url(#slat)"/><rect x="39.60" y="33.10" width="8.20" height="1.01" fill="url(#slat)"/><rect x="39.60" y="35.50" width="8.20" height="1.01" fill="url(#slat)"/><rect x="39.60" y="37.90" width="8.20" height="1.01" fill="url(#slat)"/><rect x="39.60" y="40.30" width="8.20" height="1.01" fill="url(#slat)"/><rect x="39.60" y="42.70" width="8.20" height="1.01" fill="url(#slat)"/><rect x="39.60" y="45.10" width="8.20" height="1.01" fill="url(#slat)"/><rect x="39.60" y="47.50" width="8.20" height="1.01" fill="url(#slat)"/><rect x="41.70" y="58.40" width="4" height="1.3" fill="#505050"/><path d="M10.8,36.1 L21.6,33.8 L21.6,61.6 L10.8,59.9 Z" fill="url(#wside)" stroke="#9c9c9c" stroke-width="0.45"/><path d="M21.6,33.8 L30.7,34.4 L30.7,60.800000000000004 L21.6,61.6 Z" fill="url(#wfront)" stroke="#a4a4a4" stroke-width="0.4"/><rect x="21.90" y="33.8" width="8.50" height="18.10" rx="1.6" fill="#141414"/><rect x="22.60" y="34.70" width="7.10" height="1.01" fill="url(#slat)"/><rect x="22.60" y="37.11" width="7.10" height="1.01" fill="url(#slat)"/><rect x="22.60" y="39.53" width="7.10" height="1.01" fill="url(#slat)"/><rect x="22.60" y="41.94" width="7.10" height="1.01" fill="url(#slat)"/><rect x="22.60" y="44.36" width="7.10" height="1.01" fill="url(#slat)"/><rect x="22.60" y="46.77" width="7.10" height="1.01" fill="url(#slat)"/><rect x="22.60" y="49.19" width="7.10" height="1.01" fill="url(#slat)"/><rect x="24.15" y="57.80" width="4" height="1.3" fill="#505050"/></g>
<g>
<path d="M246.3,43 H84.7 V120" fill="none" stroke="#ababab" stroke-width="1.7"/>
<path d="M0,0 L-10.5,-5.6 L-8,0 L-10.5,5.6 Z" fill="#ababab" transform="translate(84.7,130.3) rotate(90)"/>
<path d="M342.3,43 H514.4 V119" fill="none" stroke="#ababab" stroke-width="1.7"/>
<path d="M0,0 L-10.5,-5.6 L-8,0 L-10.5,5.6 Z" fill="#ababab" transform="translate(514.4,129) rotate(90)"/>
<path d="M297.7,85 V118" fill="none" stroke="#ababab" stroke-width="1.7"/>
<path d="M0,0 L-10.5,-5.6 L-8,0 L-10.5,5.6 Z" fill="#ababab" transform="translate(297.7,128.3) rotate(90)"/>
<path d="M136,173 H168 V265.8 H142" fill="none" stroke="#ababab" stroke-width="1.7"/>
<path d="M0,0 L-10.5,-5.6 L-8,0 L-10.5,5.6 Z" fill="#ababab" transform="translate(134.5,265.8) rotate(180)"/>
<path d="M37,264 H5.8 V356.8 H31" fill="none" stroke="#ababab" stroke-width="1.7"/>
<path d="M0,0 L-10.5,-5.6 L-8,0 L-10.5,5.6 Z" fill="#ababab" transform="translate(38.8,356.8) rotate(0)"/>
<path d="M134.5,357.1 H166.2 V444 H141" fill="none" stroke="#ababab" stroke-width="1.7"/>
<path d="M0,0 L-10.5,-5.6 L-8,0 L-10.5,5.6 Z" fill="#ababab" transform="translate(133.2,444) rotate(180)"/>
<path d="M249.2,172.9 H217.3 V265.5 H243" fill="none" stroke="#ababab" stroke-width="1.7"/>
<path d="M0,0 L-10.5,-5.6 L-8,0 L-10.5,5.6 Z" fill="#ababab" transform="translate(250.8,265.5) rotate(0)"/>
<path d="M347.4,265.9 H379.3 V352.3 H354" fill="none" stroke="#ababab" stroke-width="1.7"/>
<path d="M0,0 L-10.5,-5.6 L-8,0 L-10.5,5.6 Z" fill="#ababab" transform="translate(346.2,352.3) rotate(180)"/>
<path d="M249.3,352.6 H216.8 V446.7 H243" fill="none" stroke="#ababab" stroke-width="1.7"/>
<path d="M0,0 L-10.5,-5.6 L-8,0 L-10.5,5.6 Z" fill="#ababab" transform="translate(250.7,446.7) rotate(0)"/>
<path d="M460.8,172.8 H428.8 V265.5 H455" fill="none" stroke="#ababab" stroke-width="1.7"/>
<path d="M0,0 L-10.5,-5.6 L-8,0 L-10.5,5.6 Z" fill="#ababab" transform="translate(462.4,265.5) rotate(0)"/>
<path d="M561.8,265 H593.8 V353 H568" fill="none" stroke="#ababab" stroke-width="1.7"/>
<path d="M0,0 L-10.5,-5.6 L-8,0 L-10.5,5.6 Z" fill="#ababab" transform="translate(560.6,353) rotate(180)"/>
<path d="M464.8,352.6 H432.8 V446.7 H459" fill="none" stroke="#ababab" stroke-width="1.7"/>
<path d="M0,0 L-10.5,-5.6 L-8,0 L-10.5,5.6 Z" fill="#ababab" transform="translate(466.5,446.7) rotate(0)"/>
</g>
<g font-family='"Liberation Sans", sans-serif' font-weight="bold" fill="#000">
<text x="88.70" y="111.20" textLength="70.30" lengthAdjust="spacingAndGlyphs" font-size="9.4" stroke="#000" stroke-width="0.25">Get Latest Version</text>
<text x="306.70" y="110.80" textLength="70.00" lengthAdjust="spacingAndGlyphs" font-size="9.4" stroke="#000" stroke-width="0.25">Get Latest Version</text>
<text x="437.00" y="111.00" textLength="70.00" lengthAdjust="spacingAndGlyphs" font-size="9.4" stroke="#000" stroke-width="0.25">Get Latest Version</text>
<text x="121.50" y="221.50" textLength="37.50" lengthAdjust="spacingAndGlyphs" font-size="9.4" stroke="#000" stroke-width="0.25">Deliver To</text>
<text x="10.80" y="275.40" textLength="26.20" lengthAdjust="spacingAndGlyphs" font-size="9.4" stroke="#000" stroke-width="0.25">Export</text>
<text x="8.30" y="345.00" textLength="26.70" lengthAdjust="spacingAndGlyphs" font-size="9.4" stroke="#000" stroke-width="0.25">Import</text>
<text x="137.90" y="370.60" textLength="25.10" lengthAdjust="spacingAndGlyphs" font-size="9.4" stroke="#000" stroke-width="0.25">Export</text>
<text x="137.10" y="433.90" textLength="26.70" lengthAdjust="spacingAndGlyphs" font-size="9.4" stroke="#000" stroke-width="0.25">Import</text>
<text x="221.70" y="219.90" textLength="27.60" lengthAdjust="spacingAndGlyphs" font-size="9.4" stroke="#000" stroke-width="0.25">Deploy</text>
<text x="346.70" y="315.10" textLength="27.80" lengthAdjust="spacingAndGlyphs" font-size="9.4" stroke="#000" stroke-width="0.25">Deploy</text>
<text x="221.60" y="406.00" textLength="27.90" lengthAdjust="spacingAndGlyphs" font-size="9.4" stroke="#000" stroke-width="0.25">Deploy</text>
<text x="434.20" y="221.80" textLength="37.60" lengthAdjust="spacingAndGlyphs" font-size="9.4" stroke="#000" stroke-width="0.25">Deliver To</text>
<text x="562.30" y="315.50" textLength="27.90" lengthAdjust="spacingAndGlyphs" font-size="9.4" stroke="#000" stroke-width="0.25">Deploy</text>
<text x="437.50" y="405.00" textLength="27.60" lengthAdjust="spacingAndGlyphs" font-size="9.4" stroke="#000" stroke-width="0.25">Deploy</text>
<text x="267.00" y="16.60" textLength="62.20" lengthAdjust="spacingAndGlyphs" font-size="6.4" stroke="#000" stroke-width="0.18">Version Control System</text>
<text x="289.30" y="71.60" textLength="18.40" lengthAdjust="spacingAndGlyphs" font-size="6.4" stroke="#000" stroke-width="0.18">Master</text>
<text x="63.10" y="149.90" textLength="43.30" lengthAdjust="spacingAndGlyphs" font-size="6.4" stroke="#000" stroke-width="0.18">Windows Build PC</text>
<text x="60.40" y="240.10" textLength="49.90" lengthAdjust="spacingAndGlyphs" font-size="6.4" stroke="#000" stroke-width="0.18">IBM I Test Server(s)</text>
<text x="55.80" y="330.80" textLength="57.60" lengthAdjust="spacingAndGlyphs" font-size="6.4" stroke="#000" stroke-width="0.18">IBM I User Acceptance</text>
<text x="64.20" y="337.70" textLength="43.00" lengthAdjust="spacingAndGlyphs" font-size="6.4" stroke="#000" stroke-width="0.18">Testing Server(s)</text>
<text x="51.90" y="422.10" textLength="68.40" lengthAdjust="spacingAndGlyphs" font-size="6.4" stroke="#000" stroke-width="0.18">IBM I Production Server(s)</text>
<text x="276.70" y="149.60" textLength="43.30" lengthAdjust="spacingAndGlyphs" font-size="6.4" stroke="#000" stroke-width="0.18">Windows Build PC</text>
<text x="267.80" y="239.50" textLength="60.60" lengthAdjust="spacingAndGlyphs" font-size="6.4" stroke="#000" stroke-width="0.18">Windows Test Server(s)</text>
<text x="263.10" y="330.80" textLength="69.20" lengthAdjust="spacingAndGlyphs" font-size="6.4" stroke="#000" stroke-width="0.18">Windows User Acceptance</text>
<text x="277.00" y="337.70" textLength="42.20" lengthAdjust="spacingAndGlyphs" font-size="6.4" stroke="#000" stroke-width="0.18">Testing Server(s)</text>
<text x="269.30" y="421.80" textLength="55.30" lengthAdjust="spacingAndGlyphs" font-size="6.4" stroke="#000" stroke-width="0.18">Windows Production</text>
<text x="287.00" y="428.70" textLength="22.20" lengthAdjust="spacingAndGlyphs" font-size="6.4" stroke="#000" stroke-width="0.18">Server(s)</text>
<text x="491.10" y="149.90" textLength="43.70" lengthAdjust="spacingAndGlyphs" font-size="6.4" stroke="#000" stroke-width="0.18">Windows Build PC</text>
<text x="489.90" y="239.50" textLength="50.70" lengthAdjust="spacingAndGlyphs" font-size="6.4" stroke="#000" stroke-width="0.18">Linux Test Server(s)</text>
<text x="484.50" y="330.80" textLength="59.90" lengthAdjust="spacingAndGlyphs" font-size="6.4" stroke="#000" stroke-width="0.18">Linux User Acceptance</text>
<text x="493.00" y="337.70" textLength="44.50" lengthAdjust="spacingAndGlyphs" font-size="6.4" stroke="#000" stroke-width="0.18">Testing Server(s)</text>
<text x="492.20" y="421.80" textLength="44.50" lengthAdjust="spacingAndGlyphs" font-size="6.4" stroke="#000" stroke-width="0.18">Linux Production</text>
<text x="503.70" y="428.70" textLength="22.30" lengthAdjust="spacingAndGlyphs" font-size="6.4" stroke="#000" stroke-width="0.18">Server(s)</text>
</g>
</svg>
</body></html>
